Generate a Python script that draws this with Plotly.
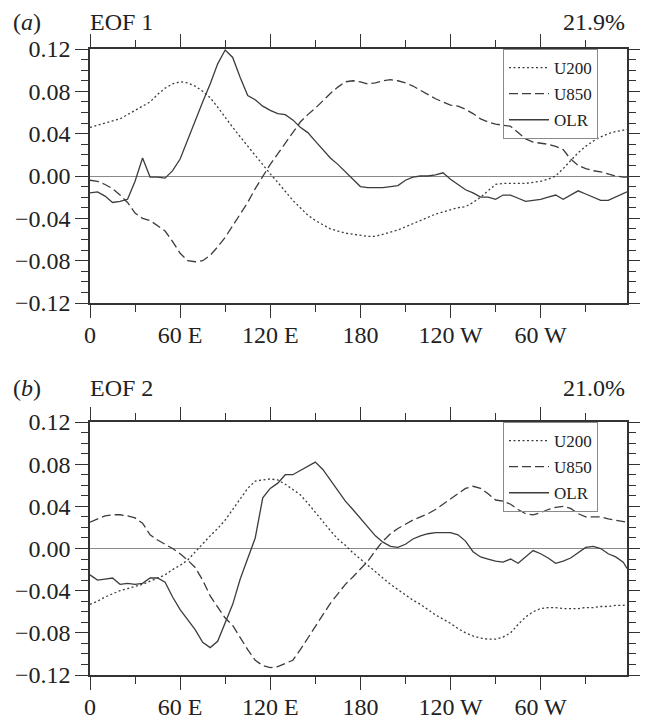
import plotly.graph_objects as go

# longitude grid (degrees east)
lon = [i * 5 for i in range(72)] + [357.5]

# EOF 1 (21.9%)
u200_a = [0.046, 0.048, 0.050, 0.052, 0.054, 0.058, 0.062, 0.066, 0.070, 0.077,
          0.083, 0.087, 0.089, 0.088, 0.085, 0.080, 0.074, 0.065, 0.055, 0.046,
          0.037, 0.028, 0.019, 0.010, 0.002, -0.006, -0.015, -0.023, -0.030, -0.037,
          -0.042, -0.046, -0.050, -0.052, -0.054, -0.055, -0.056, -0.057, -0.057, -0.055,
          -0.053, -0.051, -0.048, -0.045, -0.042, -0.039, -0.036, -0.034, -0.032, -0.030,
          -0.029, -0.025, -0.020, -0.014, -0.008, -0.007, -0.007, -0.007, -0.007, -0.006,
          -0.005, -0.003, 0.000, 0.007, 0.015, 0.022, 0.028, 0.033, 0.037, 0.040,
          0.042, 0.043, 0.044]
u850_a = [-0.004, -0.005, -0.008, -0.012, -0.018, -0.025, -0.035, -0.040, -0.042, -0.047,
          -0.052, -0.062, -0.073, -0.080, -0.081, -0.080, -0.075, -0.067, -0.058, -0.047,
          -0.036, -0.025, -0.012, 0.000, 0.011, 0.021, 0.031, 0.041, 0.051, 0.058,
          0.064, 0.071, 0.078, 0.084, 0.089, 0.090, 0.089, 0.087, 0.088, 0.090,
          0.091, 0.090, 0.088, 0.085, 0.081, 0.077, 0.073, 0.070, 0.067, 0.066,
          0.063, 0.059, 0.054, 0.051, 0.049, 0.048, 0.047, 0.041, 0.035, 0.032,
          0.031, 0.030, 0.028, 0.025, 0.016, 0.010, 0.007, 0.005, 0.004, 0.002,
          0.000, -0.001, -0.001]
olr_a = [-0.016, -0.015, -0.019, -0.025, -0.024, -0.022, -0.005, 0.017, -0.001, -0.001,
         -0.002, 0.005, 0.016, 0.034, 0.053, 0.070, 0.087, 0.106, 0.119, 0.112,
         0.093, 0.076, 0.072, 0.066, 0.062, 0.059, 0.058, 0.053, 0.046, 0.041,
         0.033, 0.025, 0.017, 0.011, 0.004, -0.003, -0.010, -0.011, -0.011, -0.011,
         -0.010, -0.009, -0.004, -0.001, 0.000, 0.000, 0.001, 0.003, -0.003, -0.008,
         -0.013, -0.016, -0.020, -0.020, -0.022, -0.018, -0.018, -0.021, -0.024, -0.023,
         -0.022, -0.020, -0.018, -0.022, -0.018, -0.014, -0.017, -0.020, -0.023, -0.023,
         -0.020, -0.017, -0.015]

# EOF 2 (21.0%)
u200_b = [-0.053, -0.050, -0.046, -0.043, -0.040, -0.038, -0.036, -0.034, -0.031, -0.028,
          -0.025, -0.020, -0.016, -0.011, -0.003, 0.004, 0.012, 0.019, 0.027, 0.037,
          0.047, 0.057, 0.064, 0.065, 0.066, 0.065, 0.061, 0.056, 0.051, 0.043,
          0.034, 0.026, 0.017, 0.009, 0.003, -0.004, -0.010, -0.016, -0.022, -0.028,
          -0.034, -0.039, -0.044, -0.049, -0.053, -0.058, -0.063, -0.067, -0.071, -0.076,
          -0.080, -0.083, -0.085, -0.086, -0.086, -0.084, -0.080, -0.072, -0.065, -0.060,
          -0.057, -0.056, -0.056, -0.057, -0.057, -0.057, -0.056, -0.056, -0.055, -0.055,
          -0.054, -0.054, -0.053]
u850_b = [0.025, 0.028, 0.031, 0.032, 0.032, 0.031, 0.029, 0.024, 0.013, 0.008,
          0.004, 0.000, -0.005, -0.011, -0.018, -0.030, -0.045, -0.056, -0.066, -0.073,
          -0.085, -0.096, -0.106, -0.111, -0.113, -0.112, -0.109, -0.106, -0.096, -0.085,
          -0.073, -0.062, -0.052, -0.043, -0.034, -0.027, -0.019, -0.012, -0.002, 0.007,
          0.014, 0.019, 0.023, 0.027, 0.030, 0.033, 0.037, 0.042, 0.047, 0.052,
          0.057, 0.059, 0.057, 0.052, 0.046, 0.045, 0.042, 0.037, 0.033, 0.032,
          0.034, 0.037, 0.039, 0.040, 0.038, 0.033, 0.030, 0.030, 0.030, 0.028,
          0.027, 0.026, 0.025]
olr_b = [-0.025, -0.030, -0.029, -0.028, -0.034, -0.033, -0.034, -0.033, -0.028, -0.028,
         -0.032, -0.046, -0.058, -0.068, -0.077, -0.089, -0.094, -0.088, -0.070, -0.053,
         -0.029, -0.010, 0.010, 0.048, 0.057, 0.062, 0.070, 0.070, 0.074, 0.078,
         0.082, 0.075, 0.065, 0.055, 0.045, 0.037, 0.029, 0.020, 0.012, 0.006,
         0.002, 0.001, 0.004, 0.009, 0.012, 0.014, 0.015, 0.015, 0.015, 0.013,
         0.007, -0.003, -0.008, -0.010, -0.012, -0.013, -0.010, -0.014, -0.008, -0.002,
         -0.005, -0.009, -0.014, -0.012, -0.009, -0.004, 0.001, 0.002, 0.000, -0.005,
         -0.008, -0.013, -0.019]

xtick_vals = [0, 60, 120, 180, 240, 300]
xtick_text = ["0", "60 E", "120 E", "180", "120 W", "60 W"]

FONT = "Liberation Serif"
LINE = "#3c3c3c"
styles = {"U200": "2px,2.5px", "U850": "9px,4px", "OLR": "solid"}

W, H = 648, 720
OFF = 8  # page body margin: the figure sits 8px in from the window corner


def px_x(px):
    return (px - OFF) / W


def px_y(px):
    return 1 - (px - OFF) / H


fig = go.Figure()
panels = [(u200_a, u850_a, olr_a), (u200_b, u850_b, olr_b)]
for k, series in enumerate(panels):
    ax = "" if k == 0 else "2"
    for name, vals in zip(["U200", "U850", "OLR"], series):
        fig.add_trace(go.Scatter(
            x=lon, y=vals, name=name, mode="lines",
            line=dict(color=LINE, width=1.3, dash=styles[name]),
            xaxis="x" + ax, yaxis="y" + ax, legend="legend" + ax,
            legendgroup=name + ax,
        ))

xdom = [px_x(90), px_x(627)]
ydoms = [[px_y(303), px_y(49)], [px_y(675), px_y(422)]]

axis_common = dict(
    showline=True, linecolor="#333", linewidth=1.5, mirror="allticks",
    ticks="outside", ticklen=13, tickwidth=1.3, tickcolor="#333",
    showgrid=False, automargin=False,
    tickfont=dict(family=FONT, size=24, color="#222"),
)
layout = dict(
    template="none",
    width=W, height=H, margin=dict(l=0, r=0, t=0, b=0, pad=0),
    paper_bgcolor="white", plot_bgcolor="white",
    font=dict(family=FONT, color="#222"),
)
for k in range(2):
    ax = "" if k == 0 else "2"
    layout["xaxis" + ax] = dict(
        axis_common, domain=xdom, range=[0, 357.5], anchor="y" + ax,
        tickvals=xtick_vals, ticktext=xtick_text, zeroline=False,
        ticklabelstandoff=-4,
        minor=dict(dtick=30, tick0=0, ticklen=7, ticks="outside", tickcolor="#333"),
    )
    layout["yaxis" + ax] = dict(
        axis_common, domain=ydoms[k], range=[-0.12, 0.12], anchor="x" + ax,
        tickvals=[-0.12, -0.08, -0.04, 0, 0.04, 0.08, 0.12], tickformat=".2f",
        zeroline=True, zerolinecolor="#8a8a8a", zerolinewidth=1,
        minor=dict(dtick=0.01, tick0=0, ticklen=7, ticks="outside", tickcolor="#333"),
    )
    layout["legend" + ax] = dict(
        x=px_x(503), y=ydoms[k][1], xanchor="left", yanchor="top",
        bgcolor="rgba(0,0,0,0)", bordercolor="#8a8a8a", borderwidth=1,
        tracegroupgap=1, itemwidth=40,
        font=dict(family=FONT, size=17, color="#222"),
    )

fig.update_layout(**layout)

titles = [("(<i>a</i>)", "EOF 1", "21.9%"), ("(<i>b</i>)", "EOF 2", "21.0%")]
title_y = [22, 388]
for k, (lab, eof, pct) in enumerate(titles):
    ytxt = px_y(title_y[k])
    fig.add_annotation(text=lab, x=3 / W, y=ytxt, xref="paper", yref="paper",
                       xanchor="left", yanchor="middle", showarrow=False,
                       font=dict(family=FONT, size=24, color="#222"))
    fig.add_annotation(text=eof, x=px_x(88), y=ytxt, xref="paper", yref="paper",
                       xanchor="left", yanchor="middle", showarrow=False,
                       font=dict(family=FONT, size=24, color="#222"))
    fig.add_annotation(text=pct, x=px_x(627), y=ytxt, xref="paper", yref="paper",
                       xanchor="right", yanchor="middle", showarrow=False,
                       font=dict(family=FONT, size=24, color="#222"))

fig.write_html("out.html")
